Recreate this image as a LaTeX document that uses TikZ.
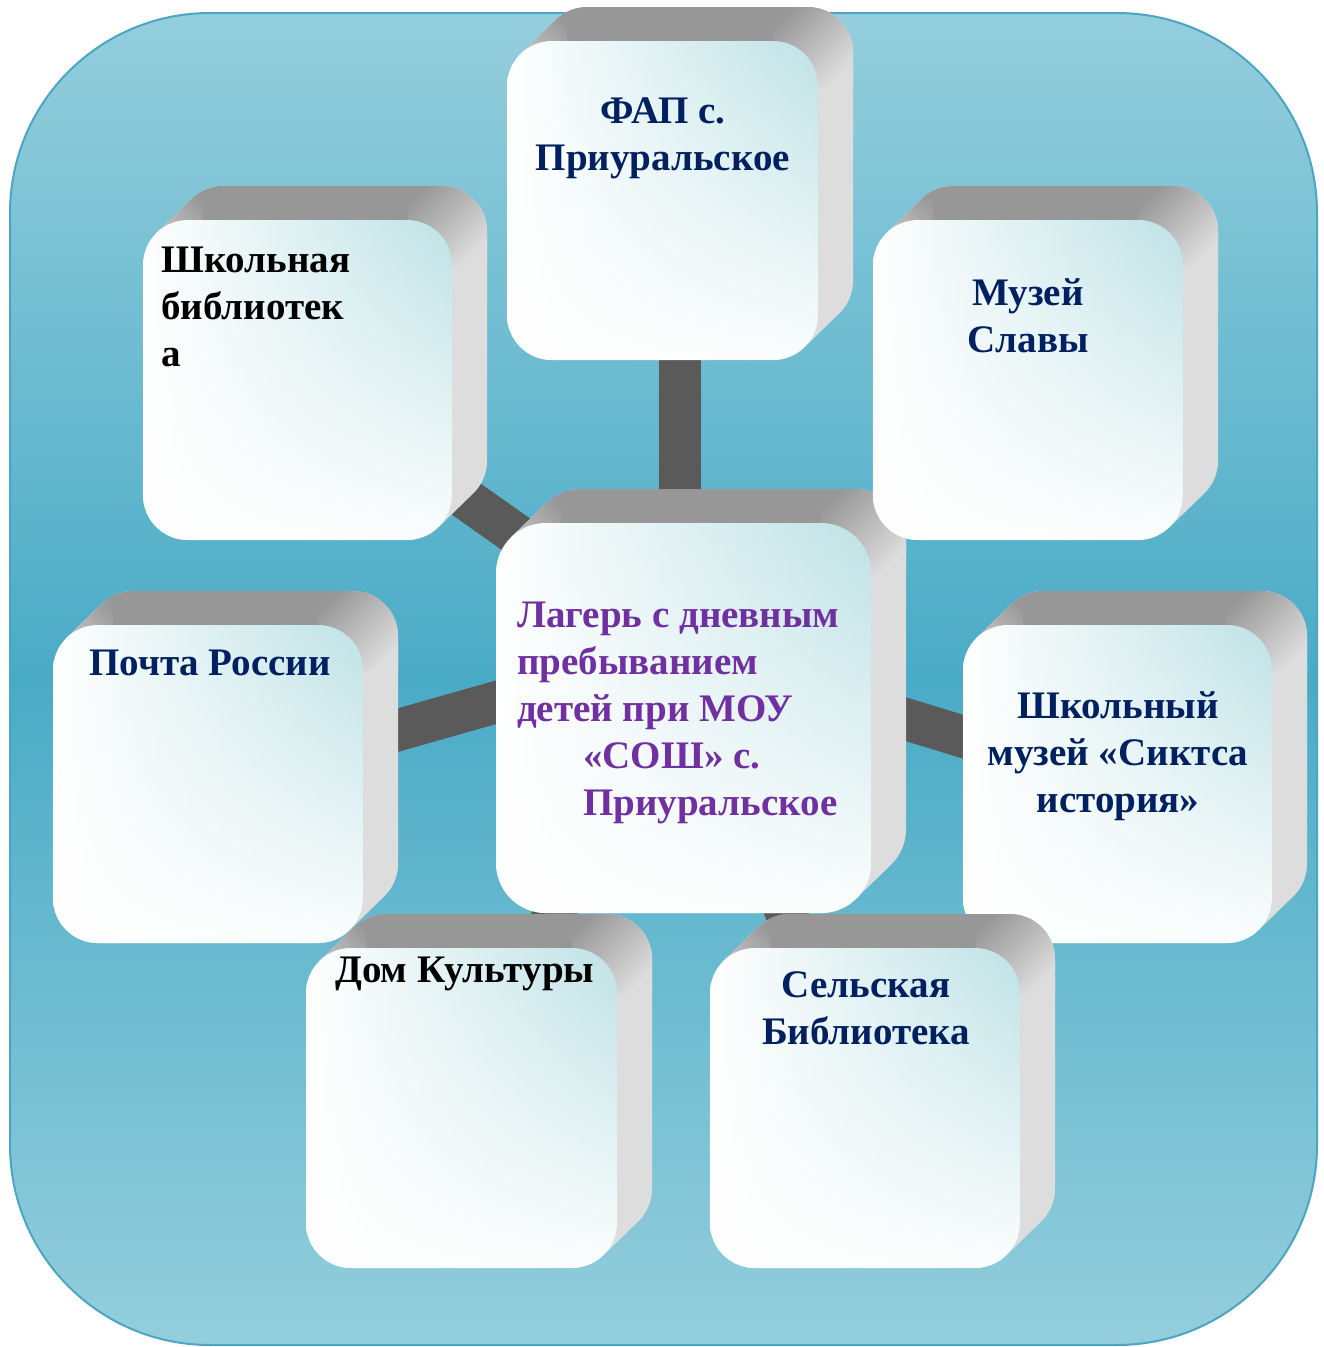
\documentclass[tikz,border=0pt]{standalone}
\usepackage{fontspec}
\setmainfont{Liberation Serif}
\usetikzlibrary{calc,fadings}
\definecolor{bgtop}{RGB}{148,206,221}
\definecolor{bgmid}{RGB}{74,171,198}
\definecolor{bgline}{RGB}{75,165,195}
\definecolor{facetint}{RGB}{190,226,230}
\definecolor{topc}{RGB}{151,151,151}
\definecolor{sidec}{RGB}{221,221,221}
\definecolor{cornerlight}{RGB}{214,214,214}
\definecolor{barc}{RGB}{90,90,90}
\definecolor{navy}{RGB}{0,32,96}
\definecolor{campc}{RGB}{112,48,160}
\tikzfading[name=whitebottom, top color=transparent!100, middle color=transparent!85, bottom color=transparent!5]
\pgfdeclarelayer{bglayer}
\pgfdeclarelayer{barlayer}
\pgfsetlayers{bglayer,barlayer,main}
\tikzset{
  front/.style={draw=none, shape=rectangle, inner sep=0pt, outer sep=0pt,
    left color=white, right color=facetint},
  bar/.style={draw=barc, line width=42pt},
  lbl/.style={inner sep=0pt, anchor=north, align=center,
    font=\bfseries\fontsize{39}{47}\selectfont},
}
\newcommand\cubebox[6]{%
  \begin{scope}
    \clip[rounded corners=#6] ({#2+35},{#3-34}) -- ({#4+35},{#3-34}) -- ({#4+35},{#5-34}) -- ({#2+35},{#5-34}) -- cycle
      [sharp corners] ({#2+0.2929*#6},{#3+0.2929*#6}) -- ++(35,-34) -- ({#4-0.2929*#6+35},{#5-0.2929*#6-34}) -- ({#4-0.2929*#6},{#5-0.2929*#6}) -- cycle;
    \fill[sidec] ({#2-5},{#3-40}) rectangle ({#4+40},{#5+5});
    \shade[top color=topc, bottom color=cornerlight, shading angle=-45] ({#2},{#3-40}) rectangle ({#2+#6+15},{#3+#6});
    \fill[topc] ({#2+#6+15},{#3-40}) rectangle ({#4-#6},{#3+2});
    \shade[top color=topc, bottom color=sidec, shading angle=45] ({#4-#6},{#3-40}) rectangle ({#4+36},{#3+#6});
  \end{scope}
  \node[front, rounded corners=#6, minimum width={#4-#2}, minimum height={#5-#3}] (#1) at ({(#2+#4)/2},{(#3+#5)/2}) {};
  \fill[white, path fading=whitebottom, rounded corners=#6] (#1.north west) rectangle (#1.south east);
}
\begin{document}
\begin{tikzpicture}[x=1pt,y=-1pt]
\begin{pgfonlayer}{bglayer}
  \fill[white] (0,0) rectangle (1323,1347);
  \shade[top color=bgtop, bottom color=bgtop, middle color=bgmid, rounded corners=200] (10,13) rectangle (1317,1345);
  \draw[bgline, line width=2pt, rounded corners=200] (10,13) rectangle (1317,1345);
\end{pgfonlayer}
\useasboundingbox (0,0) rectangle (1323,1347);

\cubebox{camp}{496}{523}{871}{913}{50}
\cubebox{fap}{507}{41}{818}{360}{45}
\cubebox{slib}{143}{220}{452}{540}{45}
\cubebox{mslav}{873}{220}{1183}{540}{45}
\cubebox{post}{53}{625}{363}{943}{45}
\cubebox{smus}{963}{625}{1272}{943}{45}
\cubebox{dom}{306}{948}{617}{1268}{45}
\cubebox{vlib}{710}{948}{1020}{1268}{45}

\coordinate (hub) at (680,650);
\begin{pgfonlayer}{barlayer}
  \draw[bar] (hub) -- (hub |- fap.center);
  \draw[bar] (hub) -- (slib.center);
  \draw[bar] (hub) -- (post.center);
  \draw[bar] (hub) -- (smus.center);
  \draw[bar] (hub) -- (dom.center);
  \draw[bar] (hub) -- (vlib.center);
\end{pgfonlayer}

\node[lbl, text=navy] (fapt) at (663,90) {\strut ФАП с.\\Приуральское};
\node[lbl, text=black, anchor=north west, align=left] (slibt) at (161,239) {\strut Школьная\\библиотек\\а};
\node[lbl, text=navy] (mslavt) at (1028,272) {\strut Музей\\Славы};
\node[lbl, text=navy] (postt) at (210,642) {\strut Почта России};
\node[lbl, text=navy] (smust) at (1118,685) {\strut Школьный\\музей «Сиктса\\история»};
\node[lbl, text=black, anchor=north west, align=left] (domt) at (335,949) {\strut Дом Культуры};
\node[lbl, text=navy] (vlibt) at (866,964) {\strut Сельская\\Библиотека};
\node[lbl, text=campc, anchor=north west, align=left] (campt) at (517,594)
  {\strut Лагерь с дневным\\пребыванием\\детей при МОУ\\\hspace*{66pt}«СОШ» с.\\\hspace*{66pt}Приуральское};
\end{tikzpicture}
\end{document}
